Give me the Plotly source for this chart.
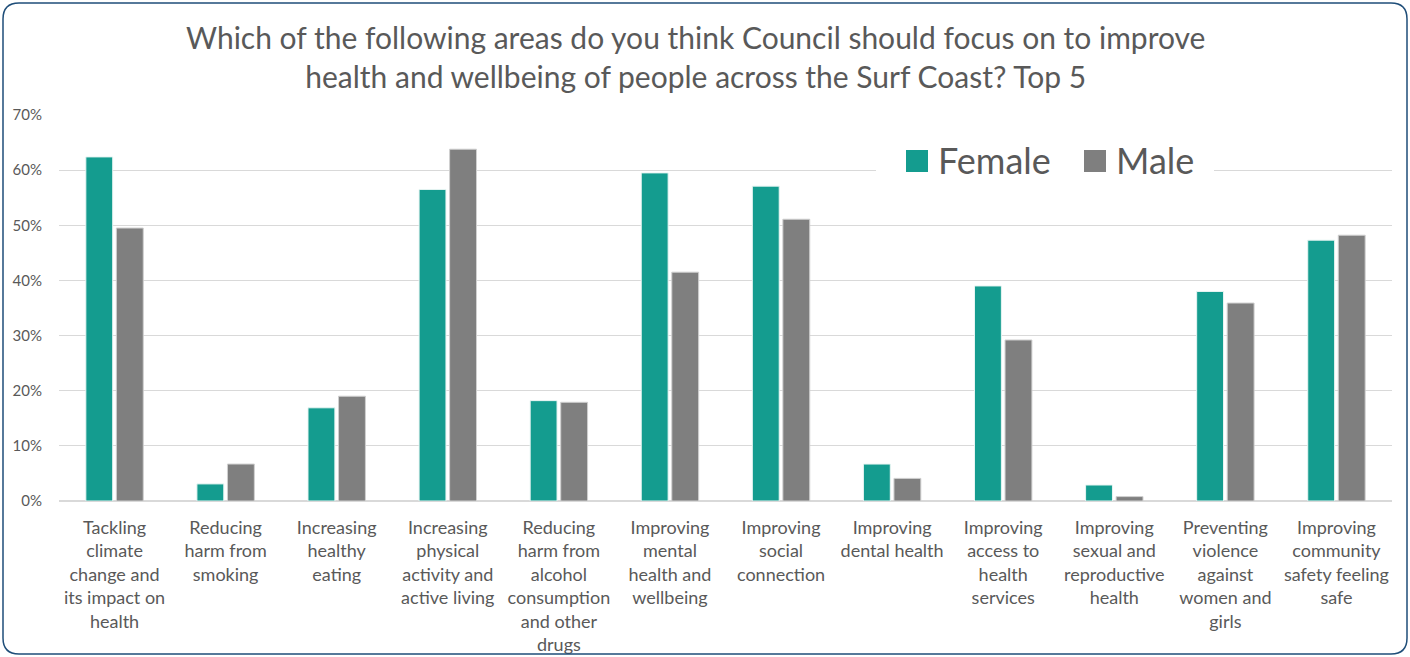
import plotly.graph_objects as go

categories = [
    "Tackling<br>climate<br>change and<br>its impact on<br>health",
    "Reducing<br>harm from<br>smoking",
    "Increasing<br>healthy<br>eating",
    "Increasing<br>physical<br>activity and<br>active living",
    "Reducing<br>harm from<br>alcohol<br>consumption<br>and other<br>drugs",
    "Improving<br>mental<br>health and<br>wellbeing",
    "Improving<br>social<br>connection",
    "Improving<br>dental health",
    "Improving<br>access to<br>health<br>services",
    "Improving<br>sexual and<br>reproductive<br>health",
    "Preventing<br>violence<br>against<br>women and<br>girls",
    "Improving<br>community<br>safety feeling<br>safe",
]
female = [62.4, 3.1, 16.9, 56.5, 18.2, 59.5, 57.1, 6.7, 39.0, 2.9, 38.0, 47.3]
male = [49.5, 6.7, 19.0, 63.8, 17.9, 41.5, 51.1, 4.1, 29.2, 0.8, 35.9, 48.2]
y_ticks = [0, 10, 20, 30, 40, 50, 60, 70]
y_tick_text = ["0%", "10%", "20%", "30%", "40%", "50%", "60%", "70%"]
series_names = ["Female", "Male"]
series_colors = ["#149c8f", "#7f7f7f"]

W, H = 1410, 657
ML, MR, MT, MB = 59, 18, 115, 156
FONT = "Lato"
TXT = "#595959"

pw, ph = W - ML - MR, H - MT - MB
def px(x):
    return (x - ML) / pw
def py(y):
    return (H - MB - y) / ph

fig = go.Figure()
fig.add_trace(go.Bar(name=series_names[0], x=categories, y=female, showlegend=False,
                     marker=dict(color=series_colors[0], line=dict(color="#e8f5f3", width=1))))
fig.add_trace(go.Bar(name=series_names[1], x=categories, y=male, showlegend=False,
                     marker=dict(color=series_colors[1], line=dict(color="#d0d0d0", width=1))))

# rounded frame around the whole chart, expressed in paper units
x0, x1, y0, y1, r = 3, 1407, 3, 654, 16
path = (f"M {px(x0 + r)} {py(y0)} L {px(x1 - r)} {py(y0)} "
        f"Q {px(x1)} {py(y0)} {px(x1)} {py(y0 + r)} "
        f"L {px(x1)} {py(y1 - r)} Q {px(x1)} {py(y1)} {px(x1 - r)} {py(y1)} "
        f"L {px(x0 + r)} {py(y1)} Q {px(x0)} {py(y1)} {px(x0)} {py(y1 - r)} "
        f"L {px(x0)} {py(y0 + r)} Q {px(x0)} {py(y0)} {px(x0 + r)} {py(y0)} Z")

shapes = [dict(type="path", path=path, xref="paper", yref="paper",
               line=dict(color="#1f4e79", width=1.5), layer="above")]

# legend block: white panel over the gridlines, colour keys and labels
shapes.append(dict(type="rect", xref="paper", yref="paper",
                   x0=px(876), x1=px(1214), y0=py(184), y1=py(138),
                   fillcolor="white", line=dict(width=0), layer="above"))
annotations = []
key_left = [906, 1084]
for name, color, kx in zip(series_names, series_colors, key_left):
    shapes.append(dict(type="rect", xref="paper", yref="paper",
                       x0=px(kx), x1=px(kx + 22), y0=py(172), y1=py(150),
                       fillcolor=color, line=dict(width=0), layer="above"))
    annotations.append(dict(text=name, xref="paper", yref="paper",
                            x=px(kx + 30), y=py(160), xanchor="left", yanchor="middle",
                            showarrow=False,
                            font=dict(size=36, family=FONT, color=TXT)))

annotations.append(dict(
    text="Which of the following areas do you think Council should focus on to improve<br>"
         "health and wellbeing of people across the Surf Coast? Top 5",
    xref="paper", yref="paper", x=px(695), y=py(57), xanchor="center", yanchor="middle",
    showarrow=False, font=dict(size=30, family=FONT, color=TXT)))

fig.update_layout(
    width=W, height=H,
    margin=dict(l=ML, r=MR, t=MT, b=MB, autoexpand=False),
    paper_bgcolor="white", plot_bgcolor="white",
    font=dict(family=FONT, color=TXT),
    barmode="group", bargap=0.45, bargroupgap=0.12,
    showlegend=False,
    xaxis=dict(showgrid=False, tickfont=dict(size=18, family=FONT, color=TXT),
               showline=False, ticks="", tickangle=0, ticklabelstandoff=14,
               automargin=False),
    yaxis=dict(range=[0, 70], tickmode="array", tickvals=y_ticks, ticktext=y_tick_text,
               gridcolor="#d9d9d9", gridwidth=1, zeroline=True, zerolinecolor="#d9d9d9",
               zerolinewidth=1.5, tickfont=dict(size=15, family=FONT, color=TXT),
               ticklabelstandoff=16, automargin=False),
    shapes=shapes,
    annotations=annotations,
)

fig.write_html("out.html")
